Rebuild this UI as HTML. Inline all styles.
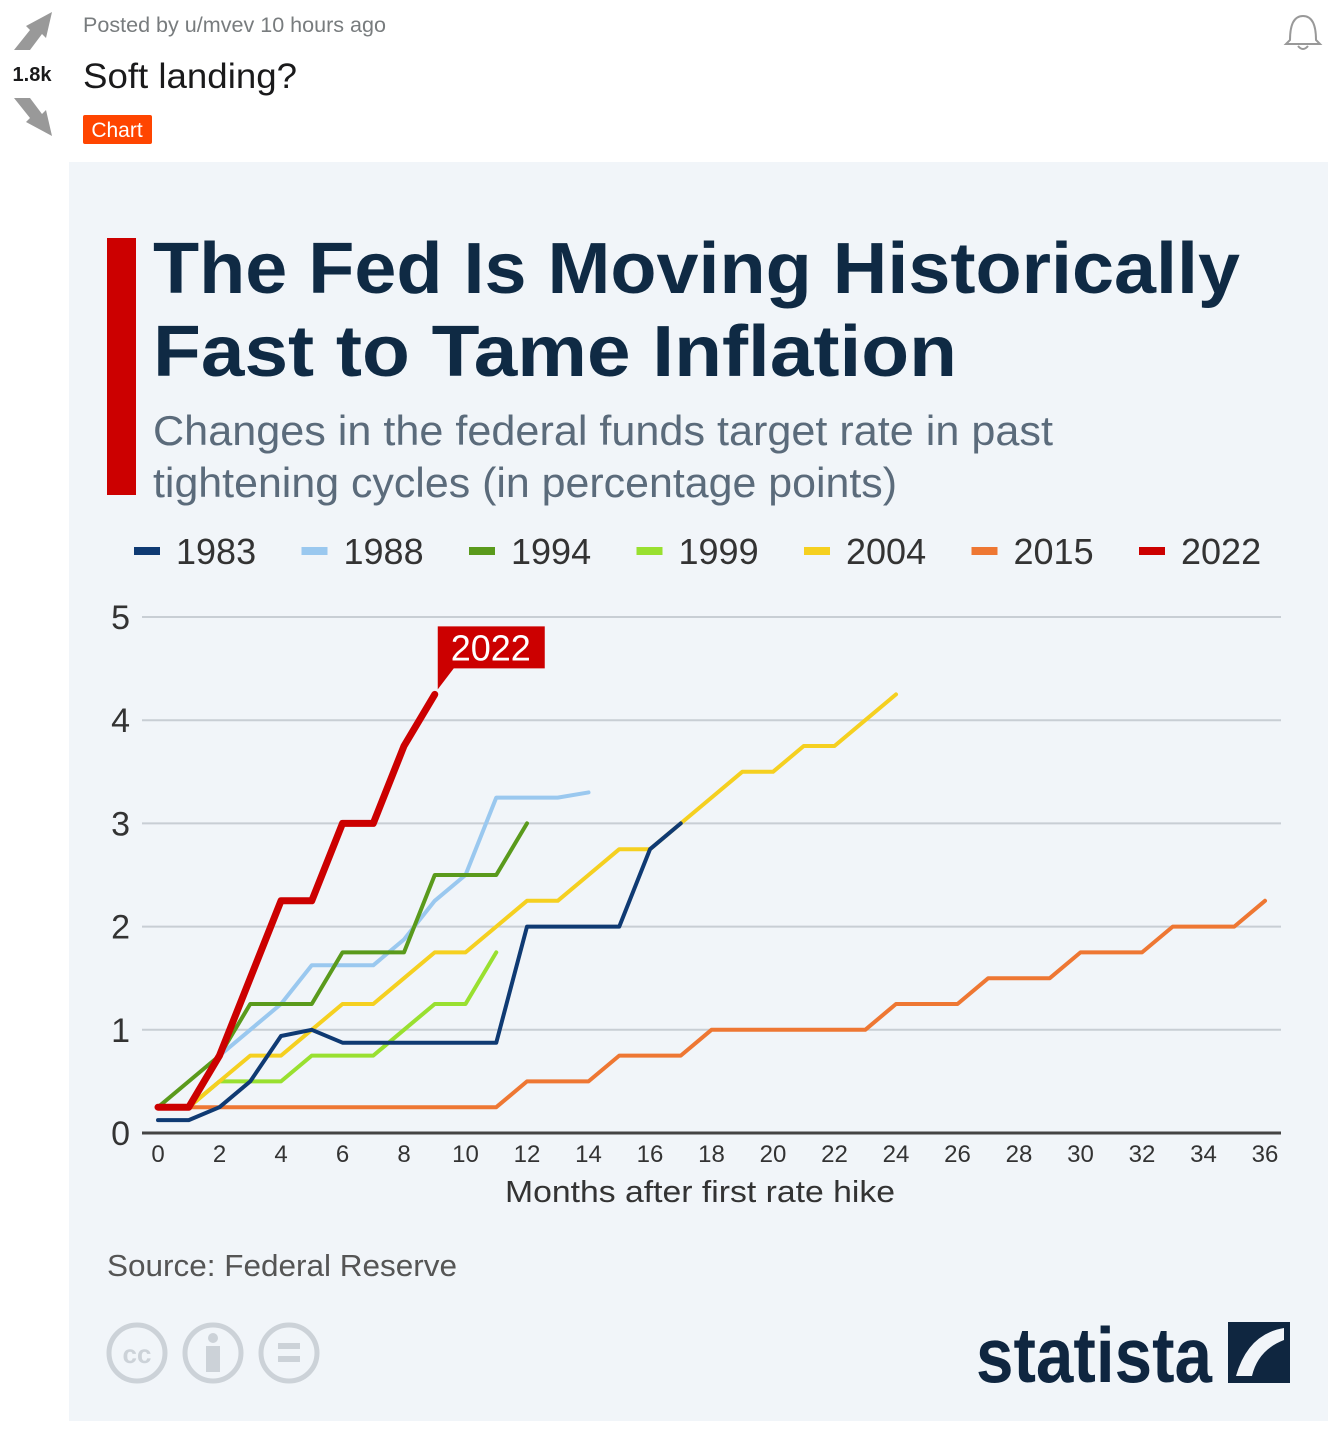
<!DOCTYPE html>
<html><head><meta charset="utf-8"><style>
body{margin:0;width:1328px;height:1442px;background:#fff;overflow:hidden;font-family:"Liberation Sans",sans-serif}
</style></head><body>
<svg id="s" width="1328" height="1442" xmlns="http://www.w3.org/2000/svg">
<g>
<path d="M14 50 L30 30 L26 26 L52 12 L46 38 L42 34 L30 50 Z" fill="#999"/>
<text x="32" y="81" font-size="20" font-weight="bold" text-anchor="middle" fill="#1a1a1b">1.8k</text>
<path d="M14 98 L30 118 L26 122 L52 136 L46 110 L42 114 L30 98 Z" fill="#999"/>
<text x="83" y="32" font-size="21" fill="#787c7e" textLength="303" lengthAdjust="spacingAndGlyphs">Posted by u/mvev 10 hours ago</text>
<text x="83" y="88" font-size="35" fill="#1a1a1b" textLength="214" lengthAdjust="spacingAndGlyphs">Soft landing?</text>
<rect x="83" y="115" width="69" height="29" rx="2" fill="#ff4500"/>
<text x="117" y="137" font-size="21" fill="#fff" text-anchor="middle">Chart</text>
<path d="M1290 40 Q1290 16 1303 16 Q1316 16 1316 40 L1320 44 L1286 44 Z M1298 46 Q1303 52 1308 46" fill="none" stroke="#999" stroke-width="2"/>
</g>
<rect x="69" y="162" width="1259" height="1259" fill="#f1f5f9"/>
<rect x="107" y="238" width="29" height="257" fill="#cc0000"/>
<text font-size="72" font-weight="bold" fill="#0f2a44" lengthAdjust="spacingAndGlyphs"><tspan x="153" y="293" textLength="1087" lengthAdjust="spacingAndGlyphs">The Fed Is Moving Historically</tspan><tspan x="153" y="376" textLength="804" lengthAdjust="spacingAndGlyphs">Fast to Tame Inflation</tspan></text>
<text font-size="42" fill="#5b6b7b"><tspan x="153" y="445" textLength="900" lengthAdjust="spacingAndGlyphs">Changes in the federal funds target rate in past</tspan><tspan x="153" y="497" textLength="744" lengthAdjust="spacingAndGlyphs">tightening cycles (in percentage points)</tspan></text>
<g id="legend"></g>
<g id="grid"></g>
<g id="lines"></g>
<g id="ticks"></g>
<text x="505" y="1202" font-size="31" fill="#333" textLength="390" lengthAdjust="spacingAndGlyphs">Months after first rate hike</text>
<text x="107" y="1276" font-size="31" fill="#555" textLength="350" lengthAdjust="spacingAndGlyphs">Source: Federal Reserve</text>
<g fill="none" stroke="#ccd2d8" stroke-width="5">
<circle cx="137" cy="1353" r="28"/><circle cx="213" cy="1353" r="28"/><circle cx="289" cy="1353" r="28"/>
</g>
<text x="137" y="1363" font-size="26" font-weight="bold" fill="#ccd2d8" text-anchor="middle">cc</text>
<circle cx="213" cy="1338" r="5" fill="#ccd2d8"/><rect x="206" y="1346" width="14" height="26" fill="#ccd2d8"/>
<rect x="278" y="1343" width="22" height="6" fill="#ccd2d8"/><rect x="278" y="1356" width="22" height="6" fill="#ccd2d8"/>
<text x="976" y="1382" font-size="78" font-weight="bold" fill="#0f2640" textLength="236" lengthAdjust="spacingAndGlyphs">statista</text>
<rect x="1228" y="1322" width="62" height="61" fill="#0f2640"/>
<path d="M1236 1376 L1252 1376 Q1258 1350 1284 1340 L1284 1328 Q1248 1334 1236 1376 Z" fill="#f1f5f9"/>
</svg>
<script>
const years=["1983","1988","1994","1999","2004","2015","2022"];
const colors=["#0f3a73","#9ac8ef","#5a9a1c","#99e030","#f5d020","#ee7733","#cc0000"];
const m1983=[0,1,2,3,4,5,6,7,8,9,10,11,12,13,14,15,16,17];
const v1983=[0.125,0.125,0.25,0.5,0.94,1,0.875,0.875,0.875,0.875,0.875,0.875,2,2,2,2,2.75,3];
const m1988=[2,3,4,5,6,7,8,9,10,11,12,13,14];
const v1988=[0.75,1,1.25,1.625,1.625,1.625,1.875,2.25,2.5,3.25,3.25,3.25,3.3];
const m1994=[0,1,2,3,4,5,6,7,8,9,10,11,12];
const v1994=[0.25,0.5,0.75,1.25,1.25,1.25,1.75,1.75,1.75,2.5,2.5,2.5,3];
const m1999=[1,2,3,4,5,6,7,8,9,10,11];
const v1999=[0.25,0.5,0.5,0.5,0.75,0.75,0.75,1,1.25,1.25,1.75];
const m2004=[1,2,3,4,5,6,7,8,9,10,11,12,13,14,15,16,17,18,19,20,21,22,23,24];
const v2004=[0.25,0.5,0.75,0.75,1,1.25,1.25,1.5,1.75,1.75,2,2.25,2.25,2.5,2.75,2.75,3,3.25,3.5,3.5,3.75,3.75,4,4.25];
const m2015=[0,11,12,13,14,15,16,17,18,23,24,25,26,27,28,29,30,31,32,33,34,35,36];
const v2015=[0.25,0.25,0.5,0.5,0.5,0.75,0.75,0.75,1,1,1.25,1.25,1.25,1.5,1.5,1.5,1.75,1.75,1.75,2,2,2,2.25];
const m2022=[0,1,2,3,4,5,6,7,8,9];
const v2022=[0.25,0.25,0.75,1.5,2.25,2.25,3,3,3.75,4.25];
const yTicks=[0,1,2,3,4,5];
const xTicks=[0,2,4,6,8,10,12,14,16,18,20,22,24,26,28,30,32,34,36];
const NS="http://www.w3.org/2000/svg";
const X=m=>158+m*30.75, Y=v=>1133-v*103.2;
function mk(t,a,p){const e=document.createElementNS(NS,t);for(const k in a)e.setAttribute(k,a[k]);p.appendChild(e);return e;}
const grid=document.getElementById('grid'),ticks=document.getElementById('ticks'),lines=document.getElementById('lines'),leg=document.getElementById('legend');
yTicks.forEach(v=>{const l=mk('line',{x1:142,x2:1281,y1:Y(v),y2:Y(v),stroke:v?'#c8ced4':'#444','stroke-width':v?2:3},grid);


const t=mk('text',{x:130,y:Y(v)+12,'font-size':34,'text-anchor':'end',fill:'#333'},ticks);t.textContent=v;

});
xTicks.forEach(m=>{const t=mk('text',{x:X(m),y:1162,'font-size':24,'text-anchor':'middle',fill:'#333'},ticks);t.textContent=m;

});
const series=[[m1983,v1983],[m1988,v1988],[m1994,v1994],[m1999,v1999],[m2004,v2004],[m2015,v2015],[m2022,v2022]];
const order=[5,3,4,1,2,0,6];
order.forEach(i=>{const [ms,vs]=series[i];const d=ms.map((m,j)=>(j?'L':'M')+X(m)+' '+Y(vs[j])).join(' ');
const p=mk('path',{d:d,fill:'none',stroke:colors[i],'stroke-width':i==6?7:4,'stroke-linejoin':'round','stroke-linecap':'round'},lines);

});
const lm=m2022[m2022.length-1],lv=v2022[v2022.length-1];
const cx=X(lm)+3,cy=Y(lv);
const c=mk('path',{d:`M${cx} ${cy-5} L${cx} ${cy-26} L${cx} ${cy-26} L${cx} ${cy-68} L${cx+107} ${cy-68} L${cx+107} ${cy-26} L${cx+16} ${cy-26} Z`,fill:'#cc0000'},lines);


const ct=mk('text',{x:cx+53,y:cy-34,'font-size':36,fill:'#fff','text-anchor':'middle'},lines);ct.textContent='2022';
years.forEach((y,i)=>{const x0=134+i*167.5;const r=mk('rect',{x:x0,y:547,width:26,height:8,fill:colors[i]},leg);


const t=mk('text',{x:x0+42,y:564,'font-size':36,fill:'#333'},leg);t.textContent=y;

});
</script>
</body></html>
